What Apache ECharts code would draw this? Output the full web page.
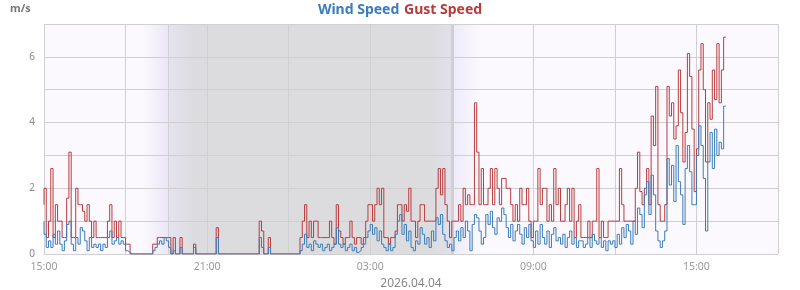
<!DOCTYPE html>
<html>
<head>
<meta charset="utf-8">
<script src="https://cdn.jsdelivr.net/npm/echarts@6/dist/echarts.min.js"></script>
<style>
html,body{margin:0;padding:0;background:#fff;}
#chart{width:800px;height:290px;}
</style>
</head>
<body>
<div id="chart"></div>
<script>
// Time axis: hours since 2026.04.03 15:00, readings every 5 minutes
const startLabelHour = 15;
const stepMinutes = 5;
const xTickHours = [0, 3, 6, 9, 12, 15, 18, 21, 24, 27];
const yTicks = [0, 1, 2, 3, 4, 5, 6, 7];
const dateLabel = '2026.04.04';
const unitLabel = 'm/s';
const seriesNames = ['Wind Speed', 'Gust Speed'];

// Night shading (hours since start)
const twilightEveStart = 3.64, sunsetHour = 4.56, nightStart = 5.56;
const nightEnd = 14.2, sunriseHour = 15.02, twilightMornEnd = 16.05;

const gustSpeed = [
  1.5, 2.0, 0.5, 1.0, 2.6, 0.5, 1.5, 1.0, 1.0, 0.5, 0.5, 1.7,
  3.1, 0.5, 0.5, 2.0, 1.5, 1.5, 1.3, 1.0, 1.5, 1.0, 0.5, 1.0,
  0.5, 0.5, 0.5, 0.5, 0.5, 1.0, 1.5, 0.5, 1.0, 0.5, 1.0, 0.5,
  0.5, 0.3, 0.3, 0, 0, 0, 0, 0, 0, 0, 0, 0,
  0, 0.3, 0.3, 0.5, 0.5, 0.5, 0.5, 0.5, 0.5, 0, 0.5, 0,
  0, 0.5, 0, 0, 0, 0, 0, 0.3, 0, 0, 0, 0,
  0, 0, 0, 0, 0, 0.8, 0, 0, 0, 0, 0, 0,
  0, 0, 0, 0, 0, 0, 0, 0, 0, 0, 0, 0,
  1.0, 0.7, 0, 0, 0.5, 0, 0, 0, 0, 0, 0, 0,
  0, 0, 0, 0, 0, 0, 0.5, 1.0, 1.5, 0.5, 1.0, 0.5,
  1.0, 1.0, 0.5, 0.5, 0.5, 0.5, 0.5, 1.0, 0.5, 0.3, 1.5, 0.7,
  0.5, 0.3, 0.5, 0.5, 1.0, 0.5, 0.3, 0.5, 0.5, 0.3, 0.5, 1.0,
  1.5, 1.5, 1.0, 1.5, 2.0, 1.5, 2.0, 0.5, 0.5, 0.3, 0.5, 0.5,
  0.7, 1.5, 1.5, 1.0, 1.5, 1.3, 2.0, 1.0, 1.0, 0.5, 1.0, 1.5,
  1.5, 1.0, 1.0, 1.0, 1.0, 1.0, 2.0, 2.6, 1.8, 2.6, 1.5, 1.0,
  0.5, 1.0, 1.0, 1.0, 1.5, 1.0, 2.0, 1.5, 1.8, 1.5, 1.5, 4.6,
  3.1, 1.5, 2.6, 1.5, 1.5, 2.0, 2.6, 1.5, 2.6, 2.0, 1.5, 2.3,
  2.3, 2.0, 2.0, 1.5, 1.0, 1.5, 1.0, 2.0, 1.5, 1.5, 2.0, 1.0,
  0.5, 1.0, 1.0, 2.6, 1.5, 2.0, 2.0, 1.0, 1.5, 1.0, 2.6, 1.5,
  2.0, 1.0, 1.0, 1.5, 2.0, 1.0, 2.0, 0.5, 1.0, 1.5, 0.5, 0.5,
  0.5, 1.0, 0.5, 1.0, 1.0, 2.6, 0.5, 1.0, 0.5, 0.5, 1.0, 1.0,
  1.0, 1.0, 1.0, 2.6, 1.5, 1.0, 1.0, 1.0, 1.0, 1.0, 2.0, 3.1,
  1.9, 1.5, 2.0, 2.6, 1.5, 4.2, 3.3, 5.1, 1.5, 1.0, 1.0, 1.5,
  5.1, 4.2, 4.6, 3.5, 3.9, 5.6, 4.3, 2.8, 3.7, 6.1, 5.4, 3.8,
  1.9, 3.2, 5.6, 6.4, 5.0, 2.8, 4.6, 4.1, 5.6, 4.7, 6.4, 4.6,
  5.6, 6.6
];

const windSpeed = [
  1.0, 0.6, 0.2, 0.4, 0.2, 0.6, 0.3, 0.7, 0.3, 0.1, 0.4, 0.9,
  1.0, 0.3, 0.1, 0.5, 0.3, 0.8, 0.7, 0.4, 0.1, 0.5, 0.2, 0.3,
  0.2, 0.3, 0.1, 0.3, 0.2, 0.5, 0.7, 0.3, 0.4, 0.5, 0.3, 0.4,
  0.3, 0.1, 0.05, 0, 0, 0, 0, 0, 0, 0, 0, 0,
  0, 0.1, 0.2, 0.3, 0.4, 0.3, 0.5, 0.4, 0.2, 0, 0.1, 0,
  0, 0.2, 0, 0, 0, 0, 0, 0.2, 0, 0, 0, 0,
  0, 0, 0, 0, 0, 0.5, 0, 0, 0, 0, 0, 0,
  0, 0, 0, 0, 0, 0, 0, 0, 0, 0, 0, 0,
  0.5, 0.2, 0, 0, 0.2, 0, 0, 0, 0, 0, 0, 0,
  0, 0, 0, 0, 0, 0, 0.1, 0.3, 0.6, 0.2, 0.3, 0.1,
  0.4, 0.3, 0.2, 0.3, 0.1, 0.2, 0.3, 0.1, 0.2, 0.3, 0.8, 0.3,
  0.2, 0.3, 0.1, 0.2, 0.3, 0.1, 0.2, 0.05, 0.1, 0.2, 0.3, 0.5,
  0.7, 0.9, 0.6, 0.8, 0.4, 0.7, 0.3, 0.2, 0.1, 0.3, 0.1, 0.2,
  0.6, 1.0, 1.2, 0.6, 0.9, 0.4, 0.7, 0.2, 0.1, 0.4, 0.3, 0.8,
  0.6, 0.3, 0.5, 0.2, 0.7, 0.4, 1.1, 0.9, 1.2, 0.6, 0.4, 0.2,
  0.3, 0.1, 0.5, 0.7, 0.4, 0.8, 0.5, 1.0, 0.7, 0.1, 0.9, 1.2,
  1.1, 0.7, 0.3, 0.5, 1.2, 0.9, 1.3, 0.8, 0.6, 1.1, 1.0, 1.4,
  1.2, 0.8, 0.5, 0.9, 0.4, 0.7, 0.9, 0.6, 0.3, 0.8, 0.5, 0.9,
  0.4, 0.2, 0.7, 0.3, 0.9, 0.5, 0.3, 0.7, 0.2, 0.6, 0.8, 0.4,
  0.5, 0.3, 0.6, 0.2, 0.5, 0.7, 0.3, 0.5, 0.2, 0.4, 0.4, 0.2,
  0.3, 0.5, 0.2, 0.6, 0.4, 0.3, 0.5, 0.2, 0.4, 0.1, 0.4, 0.3,
  0.4, 0.2, 0.6, 0.3, 0.8, 0.5, 0.9, 0.7, 0.3, 1.0, 0.6, 1.4,
  1.2, 0.8, 1.8, 2.2, 1.2, 2.4, 1.8, 0.7, 0.4, 0.2, 0.4, 0.7,
  2.9, 2.1, 2.7, 1.6, 3.3, 2.2, 1.8, 0.9, 2.6, 3.3, 2.5, 1.5,
  1.5, 3.0, 3.9, 3.3, 2.3, 0.7, 2.8, 3.7, 2.6, 3.8, 3.0, 3.4,
  3.2, 4.5
];

const toPairs = arr => arr.map((v, i) => [i * stepMinutes / 60, v]);

const FONT = '"Noto Sans", "Open Sans", sans-serif';
const BLUE = '#3b7dbb';
const RED = '#b83c3e';
const BG = '#fbf9fe';
const NIGHT = '#dcdcdf';

// one gradient across the whole dusk-night-dawn band (no seams)
const span = twilightMornEnd - twilightEveStart;
const f = h => (h - twilightEveStart) / span;
const nightGradient = new echarts.graphic.LinearGradient(0, 0, 1, 0, [
  { offset: 0, color: BG },
  { offset: f(sunsetHour) - 0.001, color: '#ebe7f6' },
  { offset: f(sunsetHour) + 0.001, color: '#e5e3ef' },
  { offset: f(nightStart), color: NIGHT },
  { offset: f(nightEnd), color: NIGHT },
  { offset: f(sunriseHour) - 0.001, color: '#e1e0eb' },
  { offset: f(sunriseHour) + 0.001, color: '#eeeaf9' },
  { offset: 1, color: BG }
]);

const chart = echarts.init(document.getElementById('chart'), null, { renderer: 'canvas' });
chart.setOption({
  animation: false,
  backgroundColor: '#ffffff',
  textStyle: { fontFamily: FONT },
  title: {
    text: '{a|' + seriesNames[0] + '} {b|' + seriesNames[1] + '}',
    left: 'center',
    top: 1,
    padding: 0,
    textStyle: {
      rich: {
        a: { color: BLUE, fontSize: 14, fontWeight: 'bold', fontFamily: FONT },
        b: { color: RED, fontSize: 14, fontWeight: 'bold', fontFamily: FONT }
      }
    }
  },
  graphic: [{
    type: 'text', left: 10, top: 3,
    style: { text: unitLabel, fill: '#777', font: 'bold 11px ' + FONT }
  }],
  grid: { left: 44, right: 22, top: 24, bottom: 36, outerBoundsMode: 'none', containLabel: false },
  xAxis: {
    type: 'value',
    z: 2,
    min: xTickHours[0],
    max: xTickHours[xTickHours.length - 1],
    interval: 3,
    name: dateLabel,
    nameLocation: 'middle',
    nameGap: 23,
    nameTextStyle: { color: '#888', fontSize: 12, fontFamily: FONT },
    axisLine: { show: false },
    axisTick: { show: false },
    splitLine: { show: true, lineStyle: { color: '#d0d0d2', width: 1 } },
    axisLabel: {
      color: '#999', fontSize: 10.5, margin: 8, fontFamily: FONT,
      formatter: v => {
        if (v % 6 !== 0 || v > 24) return '';
        const h = (startLabelHour + v) % 24;
        return (h < 10 ? '0' : '') + h + ':00';
      }
    }
  },
  yAxis: {
    type: 'value',
    z: 2,
    min: yTicks[0],
    max: yTicks[yTicks.length - 1],
    interval: 1,
    axisLine: { show: false },
    axisTick: { show: false },
    splitLine: { show: true, lineStyle: { color: '#d0d0d2', width: 1 } },
    axisLabel: {
      color: '#888', fontSize: 10, margin: 9, fontFamily: FONT,
      formatter: v => (v % 2 === 0 && v < 7) ? String(v) : ''
    }
  },
  series: [
    {
      name: 'daylight',
      type: 'line',
      z: 0,
      silent: true,
      data: [],
      markArea: {
        silent: true,
        z: 0,
        data: [
          [{ xAxis: 0, itemStyle: { color: BG } }, { xAxis: 27 }],
          [{ xAxis: twilightEveStart, itemStyle: { color: nightGradient } }, { xAxis: twilightMornEnd }]
        ]
      },
      markLine: {
        silent: true,
        z: 1,
        symbol: 'none',
        label: { show: false },
        lineStyle: { color: '#d2cfd2', type: 'solid', width: 1 },
        emphasis: { disabled: true },
        data: [{ xAxis: sunsetHour }, { xAxis: sunriseHour - 0.03 }, { xAxis: sunriseHour + 0.03 }]
      }
    },
    {
      name: seriesNames[1],
      type: 'line',
      z: 3,
      step: 'start',
      showSymbol: false,
      symbol: 'none',
      lineStyle: { color: RED, width: 1 },
      itemStyle: { color: RED },
      data: toPairs(gustSpeed)
    },
    {
      name: seriesNames[0],
      type: 'line',
      z: 4,
      step: 'start',
      showSymbol: false,
      symbol: 'none',
      lineStyle: { color: BLUE, width: 1 },
      itemStyle: { color: BLUE },
      data: toPairs(windSpeed)
    }
  ]
});
</script>
</body>
</html>
